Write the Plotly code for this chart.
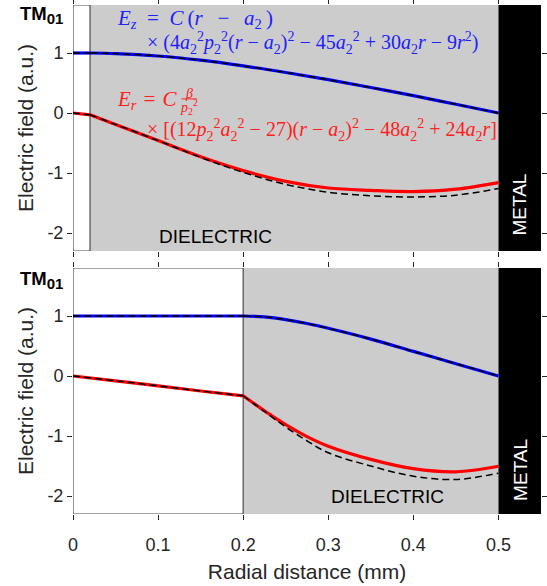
import plotly.graph_objects as go

# ---------------------------------------------------------------------------
# Field profiles of the TM01 mode (normalised), radial distance in mm
# ---------------------------------------------------------------------------
# Upper panel: thin vacuum core, dielectric from 0.02 mm to the metal wall
r_core_top = [0.0, 0.02]
r_diel_top = [0.02, 0.05, 0.10, 0.15, 0.20, 0.25, 0.30, 0.35, 0.40, 0.45, 0.50]
ez_core_top = [1.0, 1.0]
er_core_top = [0.0, -0.03]
ez_diel_top = [1.0, 0.99, 0.95, 0.88, 0.785, 0.675, 0.555, 0.425, 0.29, 0.145, 0.0]
er_diel_top = [-0.03, -0.19, -0.46, -0.73, -0.96, -1.14, -1.25, -1.29, -1.31, -1.27, -1.16]
er_diel_top_an = [-0.03, -0.19, -0.46, -0.74, -0.99, -1.19, -1.32, -1.38, -1.40, -1.37, -1.26]

# Lower panel: wide vacuum core, dielectric from 0.2 mm to the metal wall
r_core_bot = [0.0, 0.05, 0.10, 0.15, 0.20]
r_diel_bot = [0.20, 0.225, 0.25, 0.275, 0.30, 0.35, 0.40, 0.45, 0.50]
ez_core_bot = [1.0, 1.0, 1.0, 1.0, 1.0]
er_core_bot = [0.0, -0.08, -0.165, -0.25, -0.33]
ez_diel_bot = [1.0, 0.985, 0.94, 0.875, 0.795, 0.615, 0.41, 0.205, 0.0]
er_diel_bot = [-0.33, -0.58, -0.81, -1.01, -1.17, -1.39, -1.545, -1.597, -1.505]
er_diel_bot_an = [-0.33, -0.59, -0.85, -1.08, -1.28, -1.50, -1.67, -1.725, -1.62]

# Region boundaries (mm)
core_edge_top = 0.02
core_edge_bot = 0.20
metal_edge = 0.50
r_max = 0.55
y_range = [-2.3, 1.8]

x_ticks = [0, 0.1, 0.2, 0.3, 0.4, 0.5]
x_tick_text = ["0", "0.1", "0.2", "0.3", "0.4", "0.5"]
y_ticks = [-2, -1, 0, 1]
y_tick_text = ["-2", "-1", "0", "1"]

SANS = "Liberation Sans, Arial, sans-serif"
SERIF = "Liberation Serif, Times New Roman, serif"
AX = "#262626"
GREY = "#cccccc"
BLUE = "#0000ff"
RED = "#ff0000"
BLUE_TXT = "#2020ff"
RED_TXT = "#ff2020"

fig = go.Figure()


def add_profile(r, y, colour, xa, ya, analytic=None):
    fig.add_trace(go.Scatter(x=r, y=y, mode="lines", xaxis=xa, yaxis=ya,
                             line=dict(color=colour, width=3.2, shape="spline"),
                             showlegend=False, hoverinfo="skip"))
    fig.add_trace(go.Scatter(x=r, y=analytic if analytic is not None else y,
                             mode="lines", xaxis=xa, yaxis=ya,
                             line=dict(color="black", width=1.5, shape="spline",
                                       dash="7px,4px"),
                             showlegend=False, hoverinfo="skip"))


# upper panel (x2 / y2)
add_profile(r_core_top, ez_core_top, BLUE, "x2", "y2")
add_profile(r_diel_top, ez_diel_top, BLUE, "x2", "y2")
add_profile(r_core_top, er_core_top, RED, "x2", "y2")
add_profile(r_diel_top, er_diel_top, RED, "x2", "y2", er_diel_top_an)

# lower panel (x / y)
add_profile(r_core_bot, ez_core_bot, BLUE, "x", "y")
add_profile(r_diel_bot, ez_diel_bot, BLUE, "x", "y")
add_profile(r_core_bot, er_core_bot, RED, "x", "y")
add_profile(r_diel_bot, er_diel_bot, RED, "x", "y", er_diel_bot_an)

# material regions
shapes = []
for xr, yr, core_edge in (("x2", "y2", core_edge_top), ("x", "y", core_edge_bot)):
    shapes.append(dict(type="rect", xref=xr, yref=yr, layer="below",
                       x0=core_edge, x1=metal_edge, y0=y_range[0], y1=y_range[1],
                       fillcolor=GREY, line=dict(width=0)))
    shapes.append(dict(type="rect", xref=xr, yref=yr, layer="below",
                       x0=metal_edge, x1=r_max, y0=y_range[0], y1=y_range[1],
                       fillcolor="black", line=dict(width=0)))
    shapes.append(dict(type="rect", xref=xr, yref=yr, layer="below",
                       x0=0, x1=core_edge, y0=y_range[0], y1=y_range[1],
                       fillcolor="rgba(0,0,0,0)", line=dict(color="#4d4d4d", width=1.2)))

# fraction bar of beta / p2^2 in the E_r expression
shapes.append(dict(type="line", xref="x2", yref="y2", x0=0.1275, x1=0.1455,
                   y0=0.235, y1=0.235, line=dict(color=RED_TXT, width=1)))

annotations = []
# panel tags
TAG = "<b>TM<sub><span style='font-size:15px'>01</span></sub></b>"
for yd, dy in (("y2 domain", 0), ("y domain", -2)):
    annotations.append(dict(xref="paper", yref=yd, x=-0.1175, y=1.0,
                            xanchor="left", yanchor="top", yshift=4 + dy,
                            text=TAG, showarrow=False,
                            font=dict(family=SANS, size=18.5, color="black")))
annotations += [
    dict(xref="x2", yref="y2", x=0.167, y=-2.06, text="DIELECTRIC", showarrow=False,
         font=dict(family=SANS, size=19, color="black")),
    dict(xref="x", yref="y", x=0.37, y=-2.0, text="DIELECTRIC", showarrow=False,
         font=dict(family=SANS, size=19, color="black")),
    dict(xref="x2", yref="y2", x=0.525, y=-1.53, text="METAL", textangle=-90,
         showarrow=False, font=dict(family=SANS, size=19, color="white")),
    dict(xref="x", yref="y", x=0.525, y=-1.57, text="METAL", textangle=-90,
         showarrow=False, font=dict(family=SANS, size=19, color="white")),
]

EQ = "\u2002=\u2002"
EQ_THIN = "\u2004=\u2004"
MI = "\u2002\u2009−\u2002\u2009"
ez_l1 = (f"<i>E<sub>z</sub></i>{EQ}<i>C</i>\u2009(<i>r</i>{MI}"
         "<i>a</i><sub>2</sub>\u2009)")
ez_l2 = ("× (4<i>a</i><sub>2</sub><sup>2</sup><i>p</i><sub>2</sub><sup>2</sup>"
         "(<i>r</i> − <i>a</i><sub>2</sub>)<sup>2</sup> − 45<i>a</i><sub>2</sub><sup>2</sup>"
         " + 30<i>a</i><sub>2</sub><i>r</i> − 9<i>r</i><sup>2</sup>)")
er_l1 = f"<i>E<sub>r</sub></i>{EQ_THIN}<i>C</i>"
er_l2 = ("× [(12<i>p</i><sub>2</sub><sup>2</sup><i>a</i><sub>2</sub><sup>2</sup> − 27)"
         "(<i>r</i> − <i>a</i><sub>2</sub>)<sup>2</sup> − 48<i>a</i><sub>2</sub><sup>2</sup>"
         " + 24<i>a</i><sub>2</sub><i>r</i>]")
for txt, x, y, col, fs in ((ez_l1, 0.050, 1.565, BLUE_TXT, 21), (ez_l2, 0.086, 1.17, BLUE_TXT, 20),
                           (er_l1, 0.050, 0.22, RED_TXT, 21), (er_l2, 0.086, -0.28, RED_TXT, 20)):
    annotations.append(dict(xref="x2", yref="y2", x=x, y=y, xanchor="left", align="left",
                            text=txt, showarrow=False, borderpad=0,
                            font=dict(family=SERIF, size=fs, color=col)))
# numerator and denominator of beta / p2^2
annotations += [
    dict(xref="x2", yref="y2", x=0.1365, y=0.33, text="<i>β</i>", showarrow=False,
         borderpad=0, font=dict(family=SERIF, size=14, color=RED_TXT)),
    dict(xref="x2", yref="y2", x=0.1365, y=0.10, borderpad=0,
         text="<i>p</i><sub>2</sub><sup>2</sup>", showarrow=False,
         font=dict(family=SERIF, size=14, color=RED_TXT)),
]

common_x = dict(range=[0, r_max], tickvals=x_ticks, ticktext=x_tick_text,
                ticks="outside", ticklen=5, tickcolor=AX, tickwidth=1,
                showline=True, linecolor="rgba(0,0,0,0)", mirror="ticks",
                showgrid=False, zeroline=False, automargin=False,
                tickfont=dict(family=SANS, size=18, color=AX))
common_y = dict(range=y_range, tickvals=y_ticks, ticktext=y_tick_text,
                ticks="outside", ticklen=5, tickcolor=AX, tickwidth=1,
                showline=True, linecolor="rgba(0,0,0,0)", mirror="ticks",
                showgrid=False, zeroline=False, automargin=False,
                tickfont=dict(family=SANS, size=18, color=AX),
                title=dict(text="Electric field (a.u.)",
                           font=dict(family=SANS, size=21, color=AX), standoff=8))

fig.update_layout(
    width=547, height=586,
    margin=dict(l=73, r=6, t=5, b=72),
    plot_bgcolor="white", paper_bgcolor="white",
    xaxis=dict(common_x, anchor="y", domain=[0, 1], ticklabelstandoff=9,
               title=dict(text="Radial distance (mm)",
                          font=dict(family=SANS, size=21, color=AX), standoff=10)),
    xaxis2=dict(common_x, anchor="y2", domain=[0, 1], matches="x", showticklabels=False),
    yaxis=dict(common_y, anchor="x", domain=[0, 0.4833]),
    yaxis2=dict(common_y, anchor="x2", domain=[0.5167, 1]),
    shapes=shapes,
    annotations=annotations,
)

fig.write_html("out.html")
